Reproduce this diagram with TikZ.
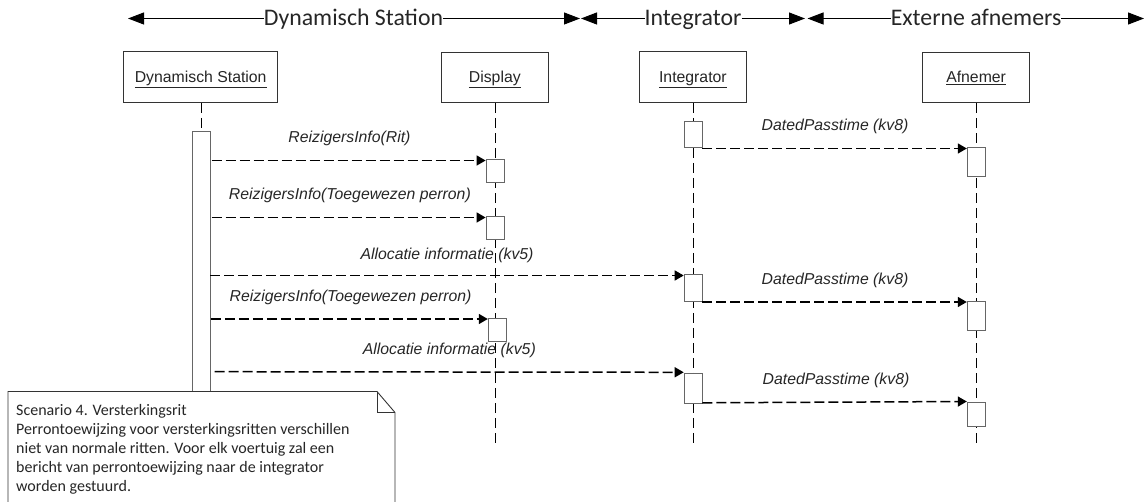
\documentclass[tikz,border=0pt]{standalone}
\usepackage{fontspec}
\setmainfont{Liberation Sans}
\newfontfamily\calibrifont{Carlito}
\usetikzlibrary{arrows.meta}
\definecolor{boxline}{HTML}{333333}
\definecolor{actline}{HTML}{666666}
\tikzset{
  x=1pt,y=-1pt,
  head/.style={inner sep=0pt,anchor=base,font=\calibrifont\fontsize{23.8}{26}\selectfont,text=black!85},
  spanl/.style={line width=1pt,draw=black,{Triangle[length=16pt,width=12pt]}-},
  spanr/.style={line width=1pt,draw=black,-{Triangle[length=16pt,width=12pt]}},
  actor/.style={draw=boxline,line width=0.9pt,fill=white,inner sep=0pt,text height=13pt,text depth=3pt,font=\fontsize{15.8}{18}\selectfont,text=black!85},
  life/.style={line width=1.5pt,draw=black,dash pattern=on 10pt off 5pt},
  act/.style={draw=actline,line width=1pt,fill=white,inner sep=0pt},
  msg/.style={line width=1.5pt,draw=black,dash pattern=on 10pt off 4pt,-{Triangle[length=9pt,width=10pt]}},
  lbl/.style={inner sep=0pt,anchor=base,font=\itshape\fontsize{15.8}{18}\selectfont,text=black!85},
  notetext/.style={inner sep=0pt,anchor=north west,align=left,font=\calibrifont\fontsize{16}{18.9}\selectfont,text=black!85},
}
\begin{document}
\begin{tikzpicture}
\useasboundingbox (0,0) rectangle (1145,502);
% header
\node[head] (h1) at (353.5,26) {Dynamisch Station};
\node[head] (h2) at (693,26) {Integrator};
\node[head] (h3) at (976,26) {Externe afnemers};
\coordinate (h1l) at (128,18.5);
\coordinate (h1r) at (580,18.5);
\coordinate (h2l) at (581,18.5);
\coordinate (h2r) at (805,18.5);
\coordinate (h3l) at (807.5,18.5);
\coordinate (h3r) at (1144,18.5);
\draw[spanl] (h1l) -- (h1.west |- h1l);
\draw[spanr] (h1.east |- h1r) -- (h1r);
\draw[spanl] (h2l) -- (h2.west |- h2l);
\draw[spanr] (h2.east |- h2r) -- (h2r);
\draw[spanl] (h3l) -- (h3.west |- h3l);
\draw[spanr] (h3.east |- h3r) -- (h3r);
% actors
\node[actor,minimum width=154pt,minimum height=50.5pt] (ds) at (200.7,77.2) {\underline{Dynamisch Station}};
\node[actor,minimum width=107.5pt,minimum height=50.5pt] (dp) at (494.8,77.7) {\underline{Display}};
\node[actor,minimum width=107.7pt,minimum height=50.5pt] (in) at (692.9,77.2) {\underline{Integrator}};
\node[actor,minimum width=107.4pt,minimum height=50.5pt] (af) at (976.1,77.7) {\underline{Afnemer}};
% lifelines
\coordinate (dpend) at (495.5,445);
\coordinate (inend) at (693.5,445);
\coordinate (afend) at (976.5,445);
\coordinate (dstop) at (201.5,131);
\draw[life] (ds.south -| dstop) -- (dstop);
\draw[life] (dp.south -| dpend) -- (dpend);
\draw[life] (in.south -| inend) -- (inend);
\draw[life] (af.south -| afend) -- (afend);
% activations
\node[act,minimum width=18pt,minimum height=260pt,anchor=north west] (bar) at (191.6,131.5) {};
\node[act,minimum width=18.2pt,minimum height=23pt,anchor=north west] (d1) at (485.6,159.5) {};
\node[act,minimum width=18.2pt,minimum height=23pt,anchor=north west] (d2) at (485.6,216.5) {};
\node[act,minimum width=18.2pt,minimum height=23pt,anchor=north west] (d3) at (487.8,318) {};
\node[act,minimum width=18.7pt,minimum height=26pt,anchor=north west] (i1) at (683.7,121) {};
\node[act,minimum width=18.7pt,minimum height=27pt,anchor=north west] (i2) at (683.7,274.5) {};
\node[act,minimum width=18.7pt,minimum height=30pt,anchor=north west] (i3) at (683.7,373) {};
\node[act,minimum width=18.3pt,minimum height=28.5pt,anchor=north west] (a1) at (966.8,147.3) {};
\node[act,minimum width=18.3pt,minimum height=28.5pt,anchor=north west] (a2) at (966.8,301.3) {};
\node[act,minimum width=18.3pt,minimum height=24pt,anchor=north west] (a3) at (966.8,401.5) {};
% messages
\coordinate (m1) at (211.6,160.5);
\coordinate (m2) at (211.6,217.5);
\coordinate (m3) at (210,275.5);
\coordinate (m4) at (210.8,319);
\coordinate (m5) at (214.5,371.7);
\draw[msg] (m1) -- (m1 -| d1.west);
\draw[msg] (m2) -- (m2 -| d2.west);
\draw[msg] (m3) -- (i2.west |- m3);
\draw[msg] (m4) -- (m4 -| d3.west);
\draw[msg] (m5) -- (i3.west |- 0,372.3);
\coordinate (n1) at (702.4,148.5);
\coordinate (n2) at (702.4,302);
\coordinate (n3) at (702.4,402.8);
\draw[msg] (n1) -- (n1 -| a1.west);
\draw[msg] (n2) -- (n2 -| a2.west);
\draw[msg] (n3) -- (a3.west |- 0,401.5);
% labels
\node[lbl] (l1) at (349.5,142.7) {ReizigersInfo(Rit)};
\node[lbl] (l2) at (349.9,200) {ReizigersInfo(Toegewezen perron)};
\node[lbl] (l3) at (447,259.3) {Allocatie informatie (kv5)};
\node[lbl] (l4) at (350.6,301.7) {ReizigersInfo(Toegewezen perron)};
\node[lbl] (l5) at (449.3,355) {Allocatie informatie (kv5)};
\node[lbl] (l6) at (835,130.7) {DatedPasstime (kv8)};
\node[lbl] (l7) at (835,284.7) {DatedPasstime (kv8)};
\node[lbl] (l8) at (836,384.3) {DatedPasstime (kv8)};
% note
\draw[line width=0.9pt,draw=boxline,fill=white] (8,506) -- (8,391.5) -- (377,391.5) -- (395,412.5) -- (395,506);
\draw[line width=0.9pt,draw=boxline] (377,391.5) -- (377,412.5) -- (395,412.5);
\node[notetext] (note) at (16,404.5) {Scenario 4. Versterkingsrit\\Perrontoewijzing voor versterkingsritten verschillen\\niet van normale ritten. Voor elk voertuig zal een\\bericht van perrontoewijzing naar de integrator\\worden gestuurd.};
\end{tikzpicture}
\end{document}
